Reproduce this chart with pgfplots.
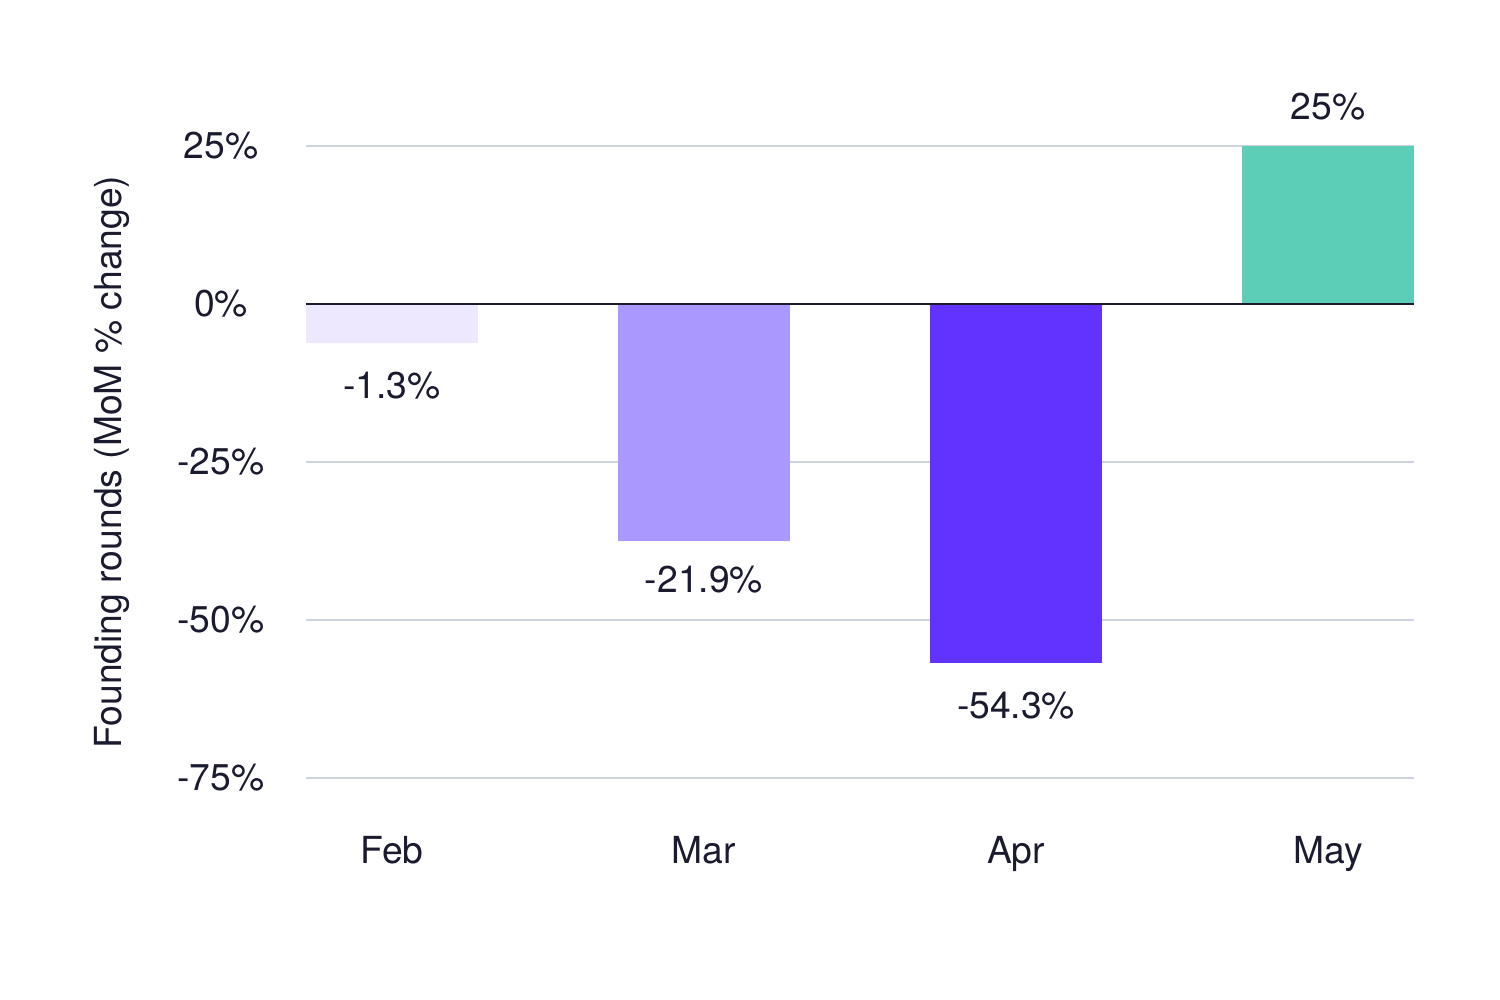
\documentclass[border=0pt]{standalone}
\usepackage{fontspec}
\setmainfont{TeX Gyre Heros}
\usepackage{pgfplots}
\pgfplotsset{compat=1.18}
\definecolor{txt}{HTML}{1B1B2F}
\definecolor{gridc}{HTML}{CCD4DF}
\definecolor{cFeb}{HTML}{EEE8FF}
\definecolor{cMar}{HTML}{AA98FF}
\definecolor{cApr}{HTML}{6233FF}
\definecolor{cMay}{HTML}{5CCDB7}
\begin{document}
\fontsize{10.6pt}{12pt}\selectfont
\begin{tikzpicture}
\useasboundingbox (0,0) rectangle (15cm,10cm);
\begin{axis}[
  at={(3.06cm,2.22cm)}, anchor=south west,
  scale only axis, width=11.08cm, height=6.32cm,
  xmin=-0.2756, xmax=3.2756, ymin=-75, ymax=25,
  axis line style={draw=none},
  clip=false,
  ytick={-75,-50,-25,0,25},
  yticklabels={-75\%,-50\%,-25\%,0\%,25\%},
  xtick={0,1,2,3},
  xticklabels={Feb,Mar,Apr,May},
  major tick length=0pt,
  xmajorgrids=false, ymajorgrids=true,
  major grid style={draw=gridc, line width=0.55pt},
  ticklabel style={font=\fontsize{10.6pt}{12pt}\selectfont, text=txt},
  yticklabel style={anchor=center, xshift=-0.85cm},
  xticklabel style={anchor=base, yshift=-0.86cm},
  ylabel={Founding rounds (MoM \% change)},
  ylabel style={font=\fontsize{10.6pt}{12pt}\selectfont, text=txt, at={(-1.94cm,0.5)}, anchor=center, rotate=0},
  ybar, bar width=1.72cm, bar shift=0pt,
  point meta=explicit symbolic,
  nodes near coords,
  nodes near coords style={font=\fontsize{10.6pt}{12pt}\selectfont, text=txt, anchor=center},
]
\addplot[fill=cFeb, draw=none, nodes near coords style={yshift=-0.43cm}] table[meta=lab] {
x y lab
0 -6.2 -1.3\%
};
\addplot[fill=cMar, draw=none, nodes near coords style={yshift=-0.39cm}] table[meta=lab] {
x y lab
1 -37.5 -21.9\%
};
\addplot[fill=cApr, draw=none, nodes near coords style={yshift=-0.43cm}] table[meta=lab] {
x y lab
2 -56.8 -54.3\%
};
\addplot[fill=cMay, draw=none, nodes near coords style={yshift=0.39cm}] table[meta=lab] {
x y lab
3 25 25\%
};
\draw[txt, line width=0.6pt] (axis cs:-0.2756,0) -- (axis cs:3.2756,0);
\end{axis}
\end{tikzpicture}
\end{document}
